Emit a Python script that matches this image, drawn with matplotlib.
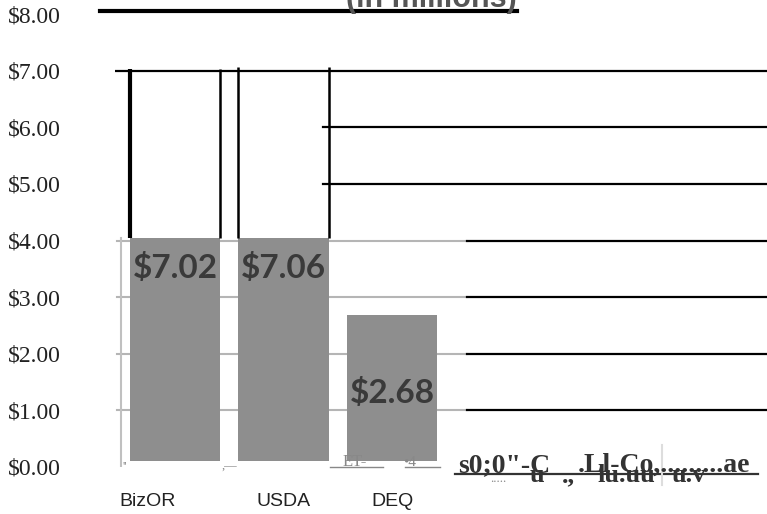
import matplotlib
matplotlib.use("Agg")
import matplotlib.pyplot as plt
from matplotlib.lines import Line2D
from matplotlib.patches import Rectangle
import numpy as np

# ---- data ----
categories = ["BizOR", "USDA", "DEQ"]
values = [7.02, 7.06, 2.68]
value_labels = ["$7.02", "$7.06", "$2.68"]
y_ticks = [0, 1, 2, 3, 4, 5, 6, 7, 8]
y_tick_labels = ["$0.00", "$1.00", "$2.00", "$3.00", "$4.00", "$5.00", "$6.00", "$7.00", "$8.00"]
title_text = "(in millions)"
scan_row1 = ["s0;0\"-C", ".Ll-Co,.........ae"]
scan_row2 = ["u", ".,", "lu.uu", "u.v"]
scan_small = ["ET-", "\u20224", "''", ",\u2014", "....."]

# ---- style / layout ----
cap = 4.05                 # upper edge of the pasted (grey) region
label_pos = [3.52, 3.52, 1.31]
label_shift = [0.25, 0.0, 0.0]
bar_gray = "#8e8e8e"
W, H = 767, 514


def fx(px):
    return px / W


def fy(py):
    return (H - py) / H


fig = plt.figure(figsize=(W / 100, H / 100), dpi=100)
ax = fig.add_axes([fx(115), fy(467), 652 / W, (467 - 14) / H])
ax.set_xlim(-0.553, 5.456)
ax.set_ylim(0, 8)
for s in ax.spines.values():
    s.set_visible(False)

x = np.arange(len(categories))
bw = 0.83

# grid lines
ax.axhline(7, xmin=0, xmax=1, color="black", lw=1.6, zorder=1)
for yv in (6, 5):
    ax.axhline(yv, xmin=0.319, xmax=1, color="black", lw=1.6, zorder=1)
for yv in (4, 3, 2, 1):
    ax.axhline(yv, xmin=0.003, xmax=0.54, color="#b5b5b5", lw=1.5, zorder=1)
    ax.axhline(yv, xmin=0.54, xmax=1, color="black", lw=1.6, zorder=1)
ax.axvline(-0.5, ymin=0, ymax=cap / 8, color="#c0c0c0", lw=1.5, zorder=1)

# bars (grey visible portion)
vis = [min(v, cap) for v in values]
ax.bar(x, vis, width=bw, color=bar_gray, zorder=2)

# outline edges of the bars above the pasted region
for i, v in enumerate(values):
    if v > cap:
        ax.vlines(x[i] - bw / 2, cap, v, color="black", lw=3.0 if i == 0 else 1.8, zorder=3)
        ax.vlines(x[i] + bw / 2, cap, v, color="black", lw=1.8, zorder=3)

# value labels
for i, lab in enumerate(value_labels):
    ax.text(x[i], label_pos[i], lab, ha="center", va="center", fontsize=24,
            fontweight="bold", family="Lato", color="#3a3a3a", zorder=4)

# y ticks
ax.set_yticks(y_ticks)
ax.set_yticklabels(y_tick_labels, family="Liberation Serif", fontsize=17, color="#222222")
ax.tick_params(axis="y", length=0, pad=39)

# x labels
ax.set_xticks(x - np.array(label_shift))
ax.set_xticklabels(categories, family="Liberation Sans", fontsize=14, color="#222222")
ax.tick_params(axis="x", length=0, pad=19)

# white strip where the scanned paste ends just above the baseline
fig.add_artist(Rectangle((fx(124), fy(466.5)), fx(445) - fx(124), fy(460.5) - fy(466.5),
                         transform=fig.transFigure, facecolor="white", edgecolor="none",
                         zorder=5))

# title line and title text (cut off at top)
fig.add_artist(Line2D([fx(100), fx(517)], [fy(11)] * 2, color="black", lw=3,
                      transform=fig.transFigure))
fig.text(fx(431), fy(7), title_text, ha="center", va="baseline", fontsize=22,
         fontweight="bold", family="Liberation Sans", color="#555555")

# scan artefact text at bottom
serif_b = dict(fontweight="bold", family="Liberation Serif", color="#333333",
               va="baseline", ha="left", zorder=6)
fig.text(fx(458), fy(472), scan_row1[0], fontsize=20, **serif_b)
fig.text(fx(578), fy(472), scan_row1[1], fontsize=20, **serif_b)
fig.add_artist(Line2D([fx(455), fx(758)], [fy(473.5)] * 2, color="#333333", lw=1.6,
                      transform=fig.transFigure, zorder=6))
fig.text(fx(530), fy(482), scan_row2[0], fontsize=19, **serif_b)
fig.text(fx(562), fy(482), scan_row2[1], fontsize=19, **serif_b)
fig.text(fx(597), fy(482), scan_row2[2], fontsize=19, **serif_b)
fig.text(fx(672), fy(482), scan_row2[3], fontsize=19, **serif_b)
fig.add_artist(Line2D([fx(662), fx(662)], [fy(445), fy(485)], color="#dddddd", lw=1.5,
                      transform=fig.transFigure, zorder=6))

gray_t = dict(family="Liberation Serif", color="#888888", va="baseline", ha="left", zorder=6)
fig.text(fx(343), fy(466), scan_small[0], fontsize=12, **gray_t)
fig.add_artist(Line2D([fx(330), fx(383)], [fy(467)] * 2, color="#888888", lw=1,
                      transform=fig.transFigure, zorder=6))
fig.text(fx(403), fy(466), scan_small[1], fontsize=11, **gray_t)
fig.add_artist(Line2D([fx(405), fx(440)], [fy(467)] * 2, color="#888888", lw=1,
                      transform=fig.transFigure, zorder=6))
fig.text(fx(122), fy(470), scan_small[2], fontsize=9, **gray_t)
fig.text(fx(222), fy(470), scan_small[3], fontsize=9, **gray_t)
fig.text(fx(490), fy(482), scan_small[4], fontsize=9, **gray_t)

fig.savefig("out.png", dpi=100)
